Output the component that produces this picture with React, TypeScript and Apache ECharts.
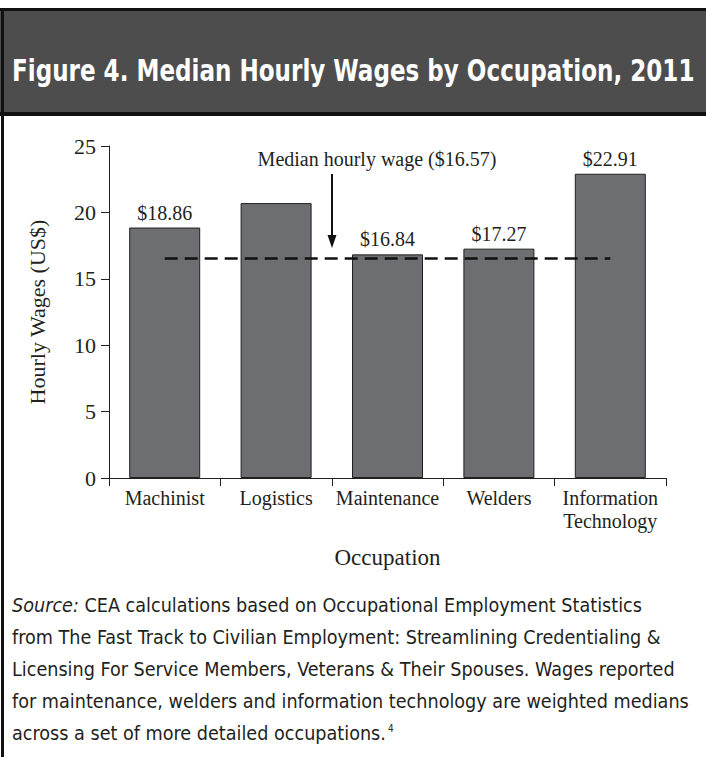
import React, { useEffect, useRef } from "react";
import * as echarts from "echarts";

const categories = ["Machinist", "Logistics", "Maintenance", "Welders", "Information Technology"];
const wages = [18.86, 20.7, 16.84, 17.27, 22.91];
const labelled = [true, false, true, true, true];
const medianWage = 16.57;
const yTicks = { min: 0, max: 25, interval: 5 };
const titleText = "Figure 4. Median Hourly Wages by Occupation, 2011";
const sourceLabel = "Source:";
const sourceLines = [
  "CEA calculations based on Occupational Employment Statistics",
  "from The Fast Track to Civilian Employment: Streamlining Credentialing &",
  "Licensing For Service Members, Veterans & Their Spouses. Wages reported",
  "for maintenance, welders and information technology are weighted medians",
  "across a set of more detailed occupations.",
];
const footnoteMark = "4";

const SERIF = '"Liberation Serif", "DejaVu Serif", serif';
const COND = '"Liberation Sans Narrow", "DejaVu Sans Condensed", "Liberation Sans", sans-serif';

function measure(text: string, font: string): number {
  const ctx = document.createElement("canvas").getContext("2d")!;
  ctx.font = font;
  return ctx.measureText(text).width;
}

export default function App() {
  const ref = useRef<HTMLDivElement>(null);
  useEffect(() => {
    document.body.style.margin = "0";
    const chart = echarts.init(ref.current!, null, { renderer: "svg" });

    const titleSize = 31;
    const titleW = measure(titleText, `bold ${titleSize}px ${COND}`);
    const titleScale = 683 / titleW;

    const srcSize = 20;
    const widest = Math.max(...sourceLines.map((l, i) => measure(i === 0 ? sourceLabel + " " + l : l, `${srcSize}px ${COND}`)));
    const srcScale = 677 / widest;
    const sourceGraphics: any[] = sourceLines.map((line, i) => {
      const rich: any = { n: { fontFamily: COND, fontSize: srcSize, fill: "#231f20" } };
      let text = "{n|" + line + "}";
      if (i === 0) {
        text = "{i|" + sourceLabel + "} {n|" + line + "}";
        rich.i = { fontFamily: COND, fontSize: srcSize, fontStyle: "italic", fill: "#231f20" };
      } else if (i === sourceLines.length - 1) {
        text = "{n|" + line + "}{s|" + footnoteMark + "}";
        rich.s = { fontFamily: COND, fontSize: 10, fill: "#231f20", verticalAlign: "top", padding: [0, 0, 10, 2] };
      }
      return {
        type: "text",
        x: 12,
        y: 605 + i * 32,
        scaleX: srcScale,
        style: { text, rich, fontFamily: COND, fontSize: srcSize, fill: "#231f20", verticalAlign: "middle" },
      };
    });

    chart.setOption({
      animation: false,
      backgroundColor: "#ffffff",
      grid: { left: 109, right: 40, top: 146, bottom: 279 },
      xAxis: {
        type: "category",
        data: categories,
        axisLine: { lineStyle: { color: "#231f20", width: 1 } },
        axisTick: { show: true, length: 8, lineStyle: { color: "#231f20" } },
        axisLabel: {
          color: "#231f20",
          fontFamily: SERIF,
          fontSize: 20,
          margin: 8,
          lineHeight: 23,
          interval: 0,
          formatter: (v: string) => (v === "Information Technology" ? "Information\nTechnology" : v),
        },
        name: "Occupation",
        nameLocation: "middle",
        nameGap: 68,
        nameTextStyle: { color: "#231f20", fontFamily: SERIF, fontSize: 23 },
      },
      yAxis: {
        type: "value",
        min: yTicks.min,
        max: yTicks.max,
        interval: yTicks.interval,
        splitLine: { show: false },
        axisLine: { show: true, lineStyle: { color: "#231f20", width: 1 } },
        axisTick: { show: true, length: 8, lineStyle: { color: "#231f20" } },
        axisLabel: { color: "#231f20", fontFamily: SERIF, fontSize: 22, margin: 13 },
        name: "Hourly Wages (US$)",
        nameLocation: "middle",
        nameGap: 61,
        nameRotate: 90,
        nameTextStyle: { color: "#231f20", fontFamily: SERIF, fontSize: 22 },
      },
      series: [
        {
          type: "bar",
          barWidth: 71,
          data: wages.map((v, i) => ({
            value: v,
            label: { show: labelled[i] },
          })),
          itemStyle: { color: "#6d6e71", borderColor: "#231f20", borderWidth: 1 },
          label: {
            show: true,
            position: "top",
            distance: 5,
            color: "#231f20",
            fontFamily: SERIF,
            fontSize: 20,
            formatter: (p: any) => "$" + Number(p.value).toFixed(2),
          },
          markLine: {
            silent: true,
            symbol: "none",
            label: { show: false },
            lineStyle: { color: "#111111", width: 2.6, type: [13, 7] },
            data: [[{ coord: [0, medianWage] }, { coord: [categories.length - 1, medianWage] }]],
          },
        },
      ],
      graphic: [
        { type: "rect", shape: { x: 0, y: 9, width: 706, height: 106 }, style: { fill: "#4d4d4d", stroke: "none" }, z: 0 },
        { type: "rect", shape: { x: 0, y: 8, width: 706, height: 3 }, style: { fill: "#111111" } },
        { type: "rect", shape: { x: 0, y: 112, width: 706, height: 4 }, style: { fill: "#111111" } },
        { type: "rect", shape: { x: 1, y: 8, width: 3, height: 749 }, style: { fill: "#111111" } },
        {
          type: "text",
          x: 12,
          y: 71,
          scaleX: titleScale,
          style: {
            text: titleText,
            fill: "#ffffff",
            fontFamily: COND,
            fontWeight: "bold",
            fontSize: titleSize,
            verticalAlign: "middle",
          },
        },
        {
          type: "text",
          x: 377,
          y: 159,
          style: {
            text: "Median hourly wage ($" + medianWage.toFixed(2) + ")",
            fill: "#231f20",
            fontFamily: SERIF,
            fontSize: 20,
            align: "center",
            verticalAlign: "middle",
          },
        },
        { type: "line", shape: { x1: 332, y1: 174, x2: 332, y2: 238 }, style: { stroke: "#111111", lineWidth: 2 } },
        { type: "polygon", shape: { points: [[327.5, 235], [336.5, 235], [332, 248]] }, style: { fill: "#111111" } },
        ...sourceGraphics,
      ],
    });
    return () => chart.dispose();
  }, []);
  return <div ref={ref} style={{ width: 706, height: 757 }} />;
}
